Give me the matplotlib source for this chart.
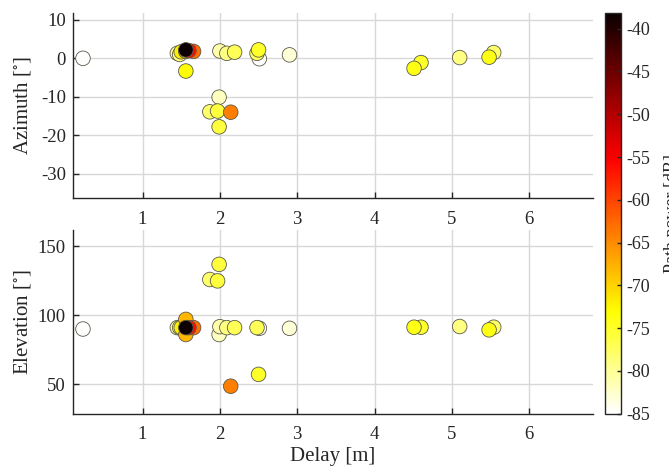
import numpy as np
import matplotlib
matplotlib.use("Agg")
import matplotlib.pyplot as plt
from matplotlib.colors import Normalize

plt.rcParams['font.family'] = ['Liberation Serif', 'DejaVu Serif']
plt.rcParams['mathtext.fontset'] = 'stix'
plt.rcParams['axes.unicode_minus'] = False

# path parameters
delay = [0.23, 1.45, 1.48, 1.50, 1.60, 1.66, 1.56, 1.56, 1.56, 1.56,
         2.00, 2.09, 2.19, 1.99, 1.87, 1.97, 2.14, 1.99,
         2.50, 2.48, 2.51, 2.90,
         4.51, 4.60, 5.10, 5.54, 5.48]
azimuth = [0.0, 1.3, 1.0, 1.7, 2.0, 1.8, 2.2, -3.3, 2.0, 1.8,
           1.9, 1.3, 1.6, -10.1, -13.9, -13.7, -14.0, -17.8,
           2.2, 1.3, -0.1, 0.9,
           -2.6, -1.1, 0.2, 1.5, 0.3]
elevation = [90.0, 91.0, 91.0, 91.0, 91.0, 91.0, 91.0, 91.0, 97.0, 86.0,
             91.7, 91.0, 91.0, 86.0, 126.0, 125.0, 48.4, 137.0,
             57.0, 91.0, 90.5, 90.5,
             91.3, 91.3, 91.8, 91.3, 89.4]
power = [-85, -80, -79, -72, -56, -63, -38.5, -73, -68, -68,
         -81, -79, -77, -82, -78, -76, -64, -76,
         -75, -77, -85, -83,
         -74, -75, -79, -78, -74]

# strongest paths drawn last
order = np.argsort(power)
d = np.array(delay)[order]
az = np.array(azimuth)[order]
el = np.array(elevation)[order]
p = np.array(power)[order]

norm = Normalize(vmin=-85, vmax=-38.2)
cmap = 'hot_r'
dark = '#262626'

fig = plt.figure(figsize=(6.69, 4.67), dpi=100)
ax1 = fig.add_axes([0.109, 0.576, 0.777, 0.3955])
ax2 = fig.add_axes([0.109, 0.1141, 0.777, 0.3934])
cax = fig.add_axes([0.905, 0.1141, 0.0232, 0.8574])

for ax, yv in [(ax1, az), (ax2, el)]:
    sc = ax.scatter(d, yv, c=p, cmap=cmap, norm=norm, s=110,
                    edgecolors='#5a5a4a', linewidths=0.6, zorder=3)
    ax.set_xlim(0.1, 6.82)
    ax.set_xticks([1, 2, 3, 4, 5, 6])
    ax.grid(True, color='#d8d8d8', linewidth=1.0, zorder=0)
    ax.set_axisbelow(True)
    for s in ['top', 'right']:
        ax.spines[s].set_visible(False)
    for s in ['left', 'bottom']:
        ax.spines[s].set_color(dark)
        ax.spines[s].set_linewidth(1.0)
    ax.tick_params(direction='in', length=4, width=1, colors=dark,
                   labelsize=13.5, labelcolor=dark)
    ax.tick_params(axis='x', pad=9)
    ax.tick_params(axis='y', pad=5)

ax1.set_ylim(-36.3, 11.7)
ax1.set_yticks([-30, -20, -10, 0, 10])
ax1.set_ylabel(r'Azimuth [$^{\circ}$]', fontsize=15, color=dark)
ax1.yaxis.set_label_coords(-0.076, 0.5)

ax2.set_ylim(28.4, 162)
ax2.set_yticks([50, 100, 150])
ax2.set_ylabel(r'Elevation [$^{\circ}$]', fontsize=15, color=dark)
ax2.yaxis.set_label_coords(-0.076, 0.5)
ax2.set_xlabel('Delay [m]', fontsize=15, color=dark, labelpad=3)

cb = fig.colorbar(sc, cax=cax)
cb.set_ticks(np.arange(-85, -39, 5))
cb.ax.tick_params(direction='in', length=3, width=1, colors=dark,
                  labelsize=13, pad=4)
cb.outline.set_edgecolor(dark)
cb.outline.set_linewidth(1.0)
cb.set_label('Path power [dB]', fontsize=13, color=dark, labelpad=10)

fig.savefig('out.png', dpi=100)
